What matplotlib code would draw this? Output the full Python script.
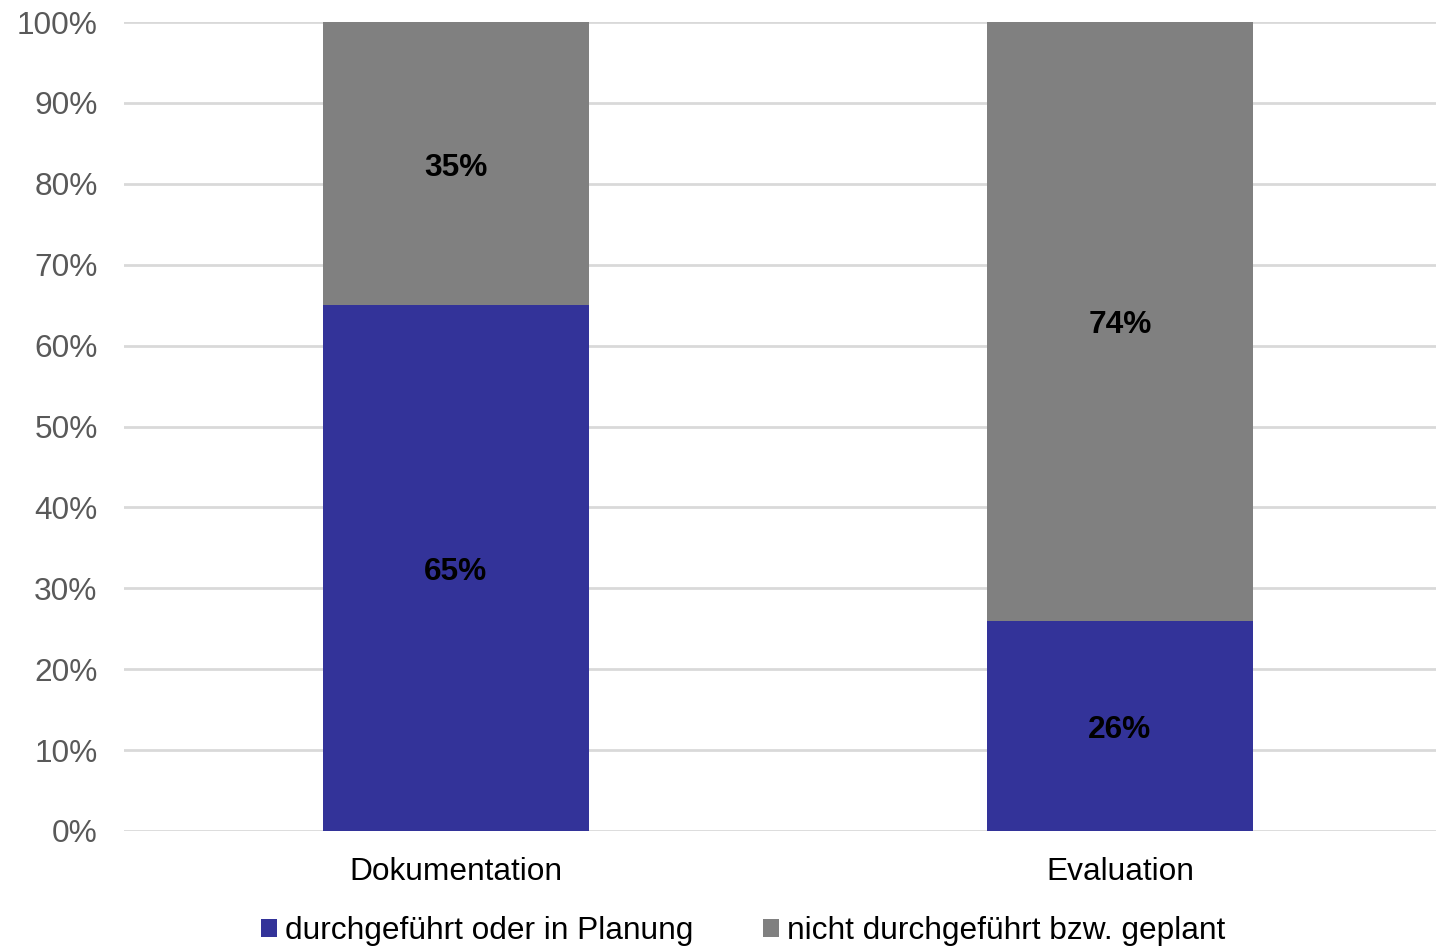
import numpy as np
import matplotlib.pyplot as plt
from matplotlib.patches import Patch
from matplotlib.ticker import FuncFormatter

plt.rcParams['font.family'] = ['Liberation Sans', 'DejaVu Sans']

categories = ["Dokumentation", "Evaluation"]
done_or_planned = [65, 26]
not_done = [35, 74]
series_names = ["durchgeführt oder in Planung", "nicht durchgeführt bzw. geplant"]

blue = "#333399"
gray = "#808080"
fs = 22.8

fig = plt.figure(figsize=(14.36, 9.48), dpi=100)
ax = fig.add_axes([124 / 1436, 1 - 831 / 948, (1436 - 124) / 1436, (831 - 22) / 948])

x = np.arange(len(categories))
width = 0.4
b1 = ax.bar(x, done_or_planned, width, color=blue, zorder=3)
b2 = ax.bar(x, not_done, width, bottom=done_or_planned, color=gray, zorder=3)

# value labels centred in each segment
for bars, vals, bottoms in [(b1, done_or_planned, [0, 0]), (b2, not_done, done_or_planned)]:
    for bar, v, b in zip(bars, vals, bottoms):
        ax.annotate(f"{v}%", (bar.get_x() + bar.get_width() / 2, b + v / 2),
                    xytext=(0, -3), textcoords="offset points",
                    ha="center", va="center", fontsize=fs, fontweight="bold",
                    color="black", zorder=4)

ax.set_xlim(-0.5, 1.476)
ax.set_ylim(0, 100)
ax.set_yticks(np.arange(0, 101, 10))
ax.yaxis.set_major_formatter(FuncFormatter(lambda v, _: f"{int(v)}%"))
ax.set_xticks(x)
ax.set_xticklabels(categories)
ax.tick_params(axis="y", length=0, pad=19, labelsize=fs, labelcolor="#595959")
ax.tick_params(axis="x", length=0, pad=19, labelsize=fs, labelcolor="black")
ax.grid(axis="y", color="#d9d9d9", linewidth=2, zorder=0)
ax.set_axisbelow(True)
for s in ax.spines.values():
    s.set_visible(False)

handles = [Patch(facecolor=blue), Patch(facecolor=gray)]
fig.legend(handles, series_names, loc="center", bbox_to_anchor=(743 / 1436, 1 - 931 / 948),
           ncol=2, frameon=False, fontsize=fs, handlelength=0.5, handleheight=0.5,
           handletextpad=0.25, columnspacing=2.2, borderaxespad=0)

fig.savefig("out.png", dpi=100)
